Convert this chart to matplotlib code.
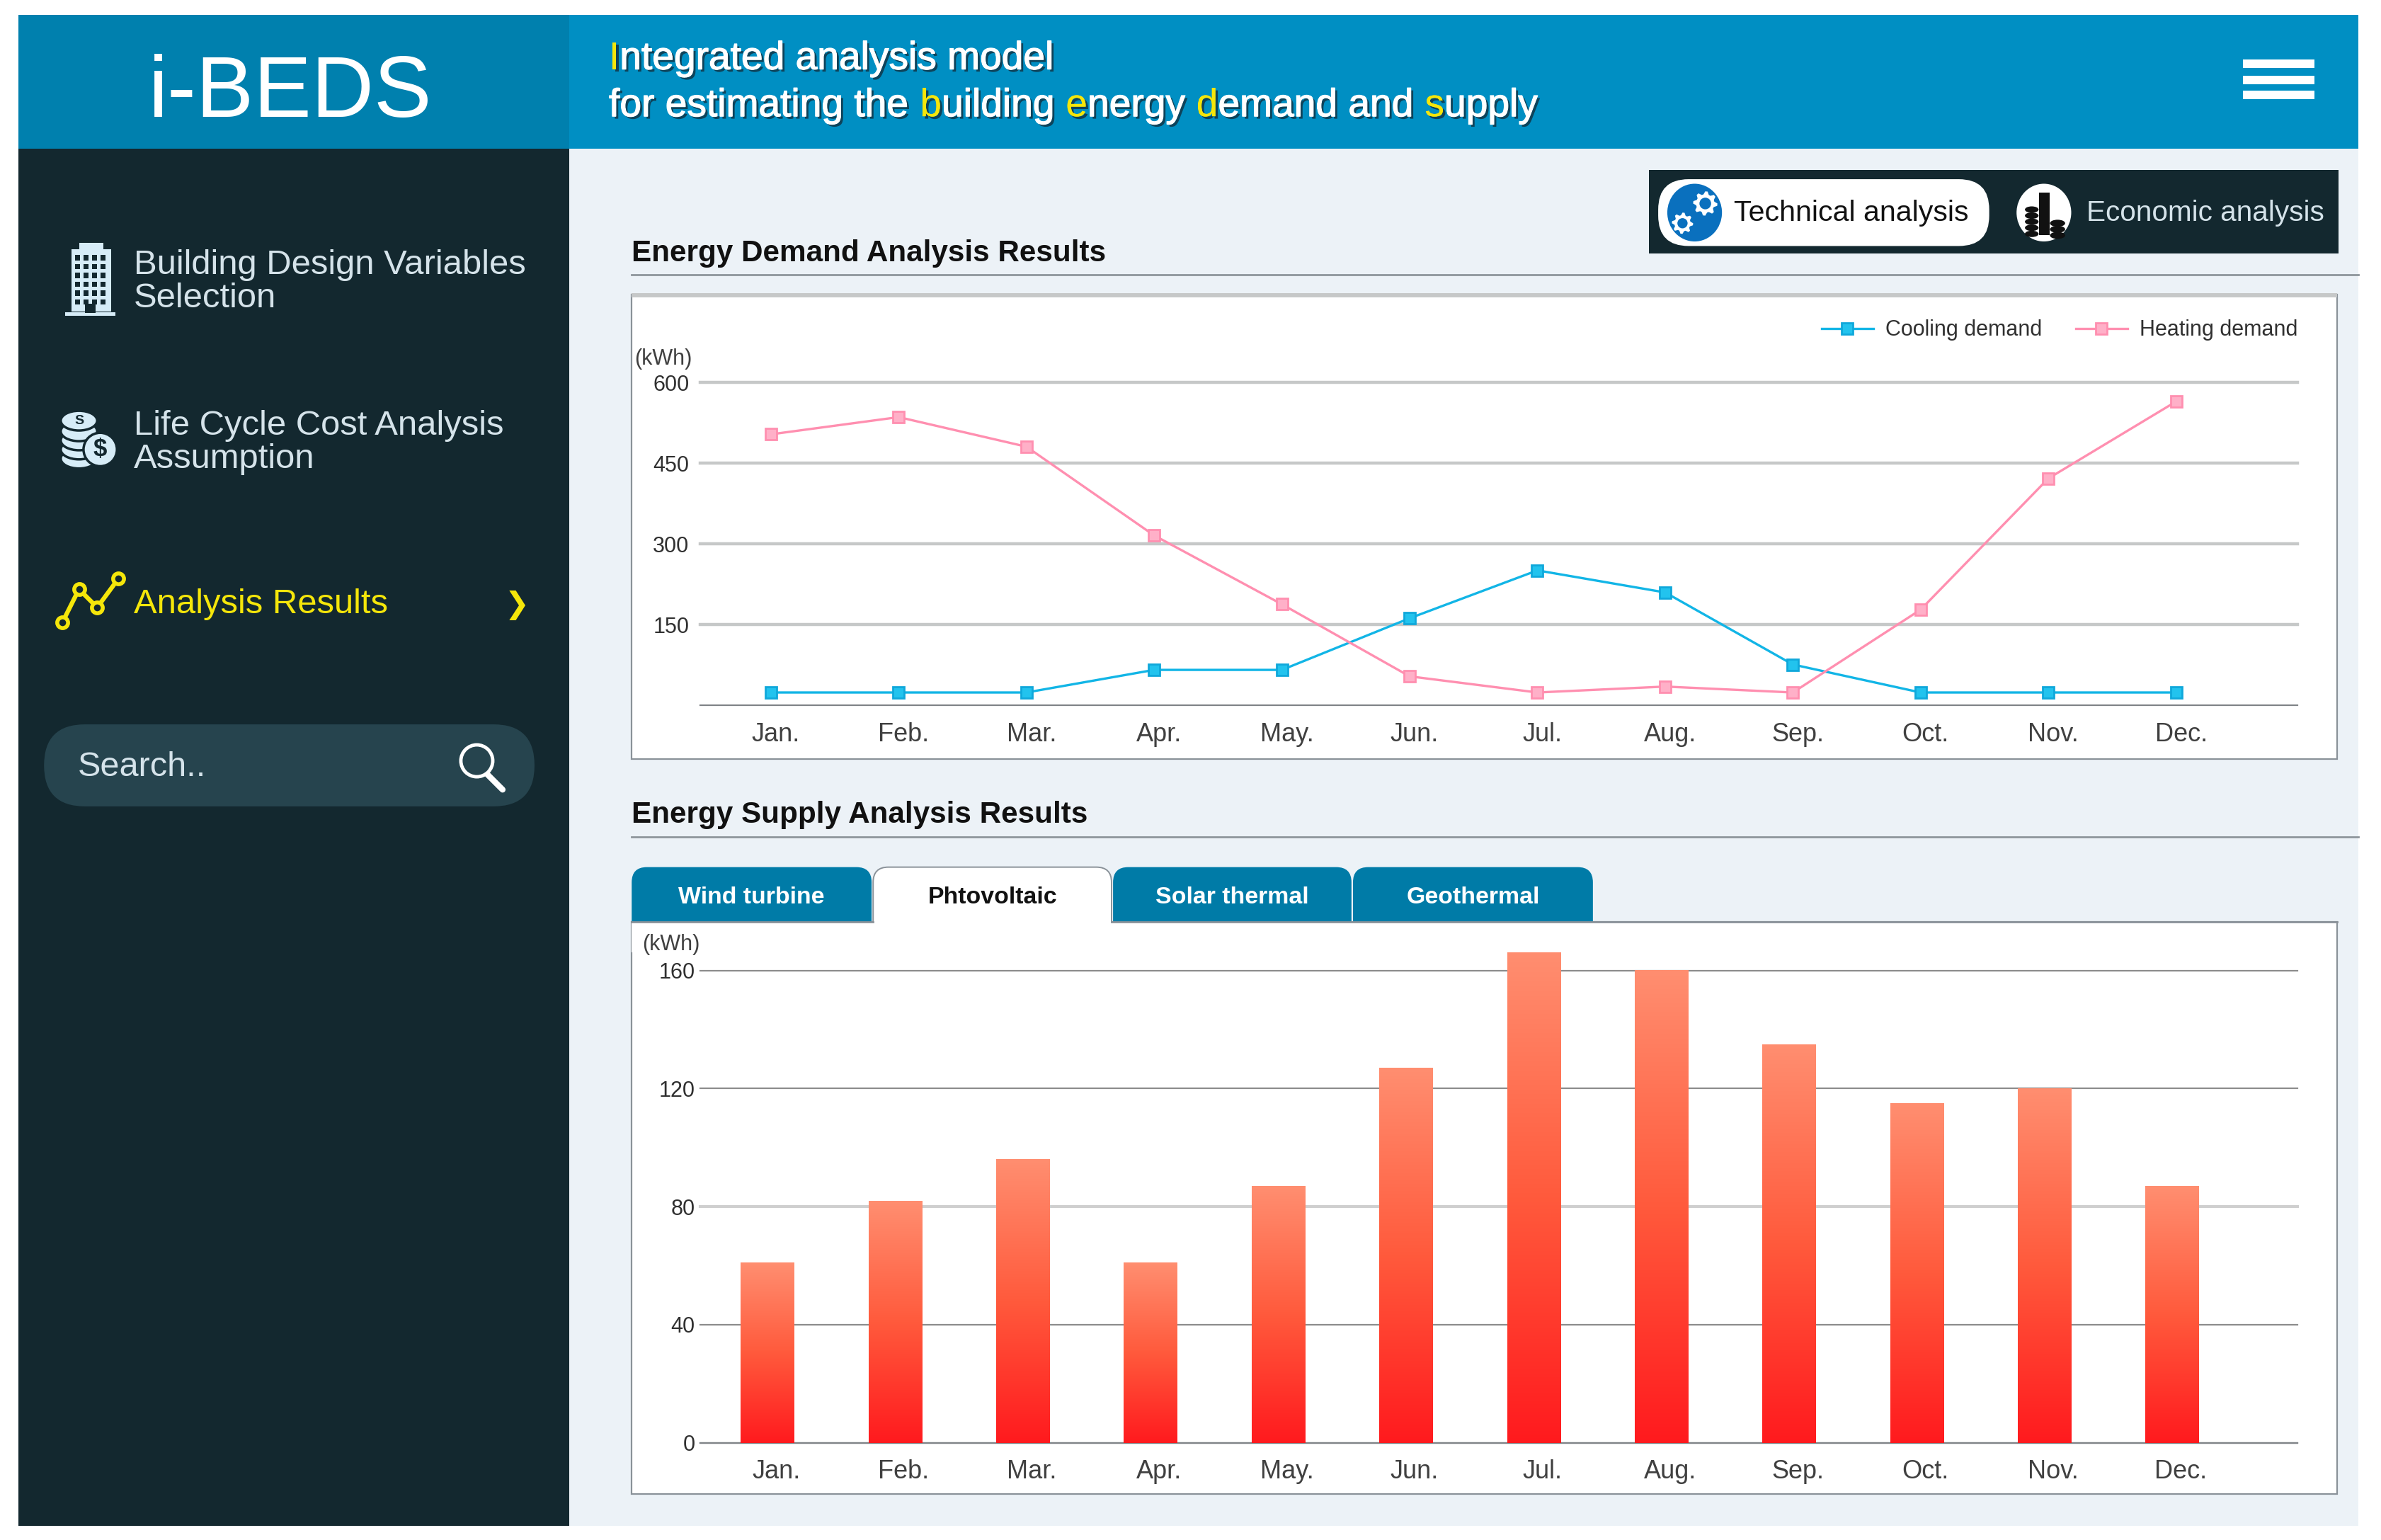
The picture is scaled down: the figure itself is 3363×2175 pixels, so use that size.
import numpy as np
import matplotlib
matplotlib.use("Agg")
import matplotlib.pyplot as plt
import matplotlib.patheffects as pe
from matplotlib.patches import Rectangle, FancyBboxPatch, Circle, Ellipse, Polygon
from matplotlib.transforms import ScaledTranslation
from matplotlib.colors import LinearSegmentedColormap

plt.rcParams['font.family'] = ['Liberation Sans', 'DejaVu Sans']

# ---------- data ----------
months = ["Jan.", "Feb.", "Mar.", "Apr.", "May.", "Jun.", "Jul.", "Aug.", "Sep.", "Oct.", "Nov.", "Dec."]
cooling_demand = [24, 24, 24, 66, 66, 162, 251, 210, 76, 24, 24, 24]
heating_demand = [504, 536, 481, 316, 188, 54, 24, 35, 24, 178, 422, 565]
pv_supply = [61, 82, 96, 61, 87, 127, 166, 160, 135, 115, 120, 87]
demand_ticks = [150, 300, 450, 600]
supply_ticks = [0, 40, 80, 120, 160]
nav_items = ["Building Design Variables\nSelection", "Life Cycle Cost Analysis\nAssumption"]
tabs = ["Wind turbine", "Phtovoltaic", "Solar thermal", "Geothermal"]

W, H = 3363, 2175
S = W / 1568.0
fig = plt.figure(figsize=(W / 100, H / 100), dpi=100, facecolor="white")

# ---------- page furniture, in reference display units ----------
bg = fig.add_axes([0, 0, 1, 1], zorder=0)
bg.set_xlim(0, 1568)
bg.set_ylim(H / S, 0)
bg.axis("off")

DARK = "#13282F"
PALE = "#ECF2F7"
HEAD_L = "#0080AE"
HEAD_R = "#008FC3"
TAB = "#007BA7"
YEL = "#F5E60A"
GRID_L = "#C6C8C8"
BORDER = "#8A9299"


def rect(x0, y0, x1, y1, **kw):
    kw.setdefault("lw", 0)
    p = Rectangle((x0, y0), x1 - x0, y1 - y0, **kw)
    bg.add_patch(p)
    return p


def pill(x0, y0, x1, y1, r, **kw):
    kw.setdefault("lw", 0)
    p = FancyBboxPatch((x0 + r, y0 + r), x1 - x0 - 2 * r, y1 - y0 - 2 * r,
                       boxstyle=f"round,pad={r},rounding_size={r}", **kw)
    bg.add_patch(p)
    return p


def gear(cx, cy, r, fc, hole):
    ang = np.linspace(0, 2 * np.pi, 33)[:-1]
    rad = np.where(np.arange(32) % 4 < 2, r, r * 0.76)
    bg.add_patch(Polygon(np.c_[cx + rad * np.cos(ang), cy + rad * np.sin(ang)], fc=fc, lw=0))
    bg.add_patch(Circle((cx, cy), r * 0.48, fc=hole, lw=0))


rect(12, 98, 1553, 1005, fc=PALE)
rect(12, 98, 375, 1005, fc=DARK)
rect(375, 10, 1553, 98, fc=HEAD_R)
rect(12, 10, 375, 98, fc=HEAD_L)

bg.text(191, 62, "i-BEDS", color="white", fontsize=88, ha="center", va="center")

# header title with coloured initials
shadow = [pe.withSimplePatchShadow(offset=(2.5, -2.5), shadow_rgbFace="#123040", alpha=0.8),
          pe.withStroke(linewidth=0.9, foreground="white"), pe.Normal()]
shadow_y = [pe.withSimplePatchShadow(offset=(2.5, -2.5), shadow_rgbFace="#123040", alpha=0.8), pe.Normal()]
renderer = fig.canvas.get_renderer()


def coloured(x, y, parts, size):
    for i, (t, c) in enumerate(parts):
        bg.text(x, y, t, color=c, fontsize=size, ha="left", va="center",
                path_effects=shadow if c == "white" else shadow_y)
        probe = bg.text(0, 0, t + "|", fontsize=size)
        bar = bg.text(0, 0, "|", fontsize=size)
        w = probe.get_window_extent(renderer).width - bar.get_window_extent(renderer).width
        probe.remove()
        bar.remove()
        x += w / S


coloured(401, 39, [("I", YEL), ("ntegrated analysis model", "white")], 39.7)
coloured(401, 70, [("for estimating the ", "white"), ("b", YEL), ("uilding ", "white"), ("e", YEL),
                   ("nergy ", "white"), ("d", YEL), ("emand and ", "white"), ("s", YEL), ("upply", "white")], 39.7)

# hamburger
for y in (42, 52.5, 62.5):
    rect(1477, y - 2.8, 1524, y + 2.8, fc="white")

# sidebar text
NAV = "#D5E3EA"
bg.text(88, 185.5, nav_items[0], color=NAV, fontsize=35.3, va="center", linespacing=1.06)
bg.text(88, 291.5, nav_items[1], color=NAV, fontsize=35.3, va="center", linespacing=1.06)
bg.text(88, 398, "Analysis Results", color=YEL, fontsize=35.3, va="center")
bg.text(340.5, 398.5, "\u276F", color=YEL, fontsize=30, va="center", ha="center",
        family=["DejaVu Sans"], fontweight="bold")

# building icon
ICON = "#D6ECF7"
rect(47, 164, 73, 205, fc=ICON)
rect(52, 160, 68, 165, fc=ICON)
rect(43, 205.5, 76, 208, fc=ICON)
for r in range(6):
    for c in range(4):
        rect(49.5 + c * 5.6, 168 + r * 5.8, 52.5 + c * 5.6, 171.5 + r * 5.8, fc=DARK)
rect(56, 200, 63, 206, fc=DARK)

# coins icon
for y in (302, 296, 290, 284, 277):
    bg.add_patch(Ellipse((52, y), 24, 13, fc=ICON, ec=DARK, lw=2.5))
bg.text(52, 277, "S", fontsize=14, fontweight="bold", color=DARK, ha="center", va="center")
bg.add_patch(Circle((66, 296), 11, fc=ICON, ec=DARK, lw=2.5))
bg.text(66, 296, "$", fontsize=25, fontweight="bold", color=DARK, ha="center", va="center")

# trend icon
tx, ty = [41, 52, 64, 78], [410, 388, 400, 381]
bg.plot(tx, ty, color=YEL, lw=4.5, zorder=3)
bg.plot(tx, ty, ls="none", marker="o", ms=11, mfc=DARK, mec=YEL, mew=4, zorder=4)

# search
pill(29, 477, 352, 531, 27, fc="#26444E")
bg.text(51, 505, "Search..", color="#D5E3EA", fontsize=35, va="center")
bg.add_patch(Circle((314, 501), 10.5, fc="none", ec="white", lw=3.5))
bg.plot([321, 331], [510, 520], color="white", lw=6, solid_capstyle="round")

# analysis toggle
rect(1086, 112, 1540, 167, fc=DARK)
pill(1092, 118, 1310, 162, 20, fc="white")
bg.add_patch(Ellipse((1116, 140), 36, 38, fc="#0A70BE"))
gear(1123, 134, 8, "white", "#0A70BE")
gear(1108, 147, 7, "white", "#0A70BE")
bg.text(1142, 140.5, "Technical analysis", color="#111111", fontsize=29.6, va="center")
bg.add_patch(Ellipse((1346, 140), 36, 38, fc="white"))
for yy in range(138, 156, 4):
    bg.add_patch(Ellipse((1338, yy), 9, 4.2, fc="#111111", lw=0))
rect(1343, 127, 1350, 155, fc="#111111")
for yy in (147, 151, 155):
    bg.add_patch(Ellipse((1355, yy), 10, 4.6, fc="#111111", lw=0))
bg.text(1374, 140.5, "Economic analysis", color="#D5E3EA", fontsize=29.2, va="center")

# section headings
for y, t in ((167, "Energy Demand Analysis Results"), (536.5, "Energy Supply Analysis Results")):
    bg.text(416, y, t, color="#111111", fontsize=30.4, fontweight="bold", va="center")
bg.plot([416, 1553], [181, 181], color="#8E969C", lw=2)
bg.plot([416, 1553], [551, 551], color="#8E969C", lw=2)

# chart boxes
rect(416, 194, 1539, 500, fc="white", ec=BORDER, lw=1.6)
rect(416, 607, 1539, 984, fc="white", ec=BORDER, lw=1.6)
rect(416, 193, 1539, 196, fc=GRID_L)

# tabs
tab_x = [(416, 574), (575, 732), (733, 890), (891, 1049)]
for i, (t, (x0, x1)) in enumerate(zip(tabs, tab_x)):
    active = i == 1
    pill(x0, 571, x1, 625, 10, fc="white" if active else TAB,
         ec=BORDER if active else "none", lw=1.4 if active else 0)
rect(416, 607.6, 1538, 627, fc="white")
bg.plot([416, 575], [607, 607], color=BORDER, lw=2)
bg.plot([732, 1539], [607, 607], color=BORDER, lw=2)
for i, (t, (x0, x1)) in enumerate(zip(tabs, tab_x)):
    bg.text((x0 + x1) / 2, 591, t, color="#111111" if i == 1 else "white",
            fontsize=24.4, fontweight="bold", ha="center", va="center")


# ---------- charts ----------
def chart_axes(x0, x1, y0, y1):
    ax = fig.add_axes([x0 * S / W, 1 - y1 * S / H, (x1 - x0) * S / W, (y1 - y0) * S / H], zorder=2)
    ax.patch.set_alpha(0)
    for side in ("top", "right", "left"):
        ax.spines[side].set_visible(False)
    ax.spines["bottom"].set_color("#808488")
    ax.spines["bottom"].set_linewidth(1.6)
    ax.tick_params(length=0)
    ax.set_axisbelow(True)
    return ax


def month_labels(ax, dx_px, pad):
    ax.set_xticks(np.arange(len(months)), months)
    ax.tick_params(axis="x", labelsize=26, labelcolor="#404040", pad=pad)
    off = ScaledTranslation(dx_px / 100, 0, fig.dpi_scale_trans)
    for lab in ax.get_xticklabels():
        lab.set_transform(lab.get_transform() + off)


xs = np.arange(len(months))

# demand
ax1 = chart_axes(461, 1513, 252, 464.5)
ax1.set_xlim(-0.555, 11.95)
ax1.set_ylim(0, 600)
ax1.set_yticks(demand_ticks)
ax1.tick_params(axis="y", labelsize=22, labelcolor="#303030", pad=11)
ax1.grid(axis="y", color=GRID_L, lw=3.2)
for g in ax1.get_ygridlines():
    g.set_clip_on(False)
month_labels(ax1, 7, 17)
ax1.plot(xs, cooling_demand, color="#12B5E6", lw=2.4, marker="s", ms=12, mfc="#22C3EE", mec="#10A8DA",
         mew=2, label="Cooling demand", zorder=3)
ax1.plot(xs, heating_demand, color="#FF8FB0", lw=2.4, marker="s", ms=12, mfc="#FFB0C8", mec="#FF8FB0",
         mew=2, label="Heating demand", zorder=3)
ax1.legend(loc="lower right", bbox_to_anchor=(1.0, 1.13), ncols=2, frameon=False, fontsize=22,
           labelcolor="#303030", borderpad=0, borderaxespad=0, handlelength=2.4, handletextpad=0.55,
           columnspacing=1.55)
fig.text(418 * S / W, 1 - 236.5 * S / H, "(kWh)", fontsize=22, color="#404040", va="center")

# supply
ax2 = chart_axes(461, 1513, 639, 950)
ax2.set_xlim(-0.529, 11.98)
ax2.set_ylim(0, 160)
ax2.set_yticks(supply_ticks)
ax2.tick_params(axis="y", labelsize=22, labelcolor="#303030", pad=5)
ax2.grid(axis="y", color="#8C8C8C", lw=1.6)
for g, t in zip(ax2.get_ygridlines(), supply_ticks):
    g.set_clip_on(False)
    if t == 80:
        g.set_color("#CFCFCF")
        g.set_linewidth(3.0)
month_labels(ax2, 12, 17)
bars = ax2.bar(xs, pv_supply, width=0.42, color="none", zorder=3)
ramp = LinearSegmentedColormap.from_list("ramp", ["#FF1A1E", "#FF5A3C", "#FF8E70"])
grad = np.linspace(0, 1, 256).reshape(-1, 1)
for b in bars:
    im = ax2.imshow(grad, cmap=ramp, origin="lower", aspect="auto", zorder=3,
                    extent=(b.get_x(), b.get_x() + b.get_width(), 0, b.get_height()))
    im.set_clip_on(False)
ax2.set_xlim(-0.529, 11.98)
ax2.set_ylim(0, 160)
fig.text(423 * S / W, 1 - 622 * S / H, "(kWh)", fontsize=22, color="#404040", va="center")

fig.savefig("out.png", dpi=100, facecolor="white")
